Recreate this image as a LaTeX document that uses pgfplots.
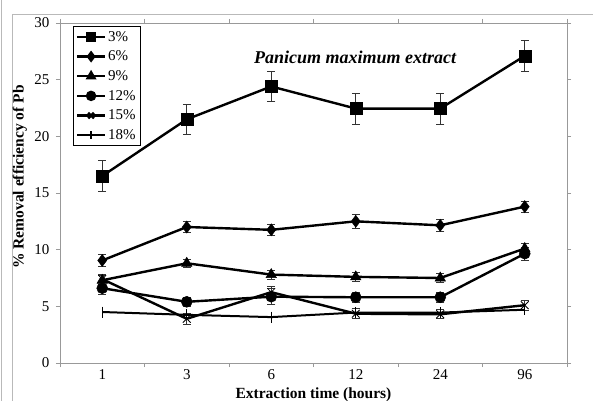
\documentclass[border=0pt]{standalone}
\usepackage{pgfplots}
\pgfplotsset{compat=1.18}
\usepackage{fontspec}
\setmainfont{Liberation Serif}
\begin{document}
\begin{tikzpicture}
\useasboundingbox (0,0) rectangle (593bp,401bp);
\draw[gray!55, line width=0.6bp] (1bp,0) -- (1bp,401bp);
\draw[gray!55, line width=0.6bp] (12bp,0) -- (12bp,387bp) -- (593bp,387bp);
\begin{axis}[
  at={(60bp,38bp)}, anchor=south west,
  scale only axis, width=507bp, height=340bp,
  xmin=-0.5, xmax=5.5, ymin=0, ymax=30,
  axis line style={gray!80, line width=0.6bp},
  tick style={gray!80, line width=0.6bp},
  tick align=outside, major tick length=4bp,
  xtick={-0.5,0.5,1.5,2.5,3.5,4.5,5.5}, xticklabels={},
  extra x ticks={0,1,2,3,4,5},
  extra x tick labels={1,3,6,12,24,96},
  extra x tick style={major tick length=0pt, xticklabel style={yshift=-3bp}},
  ytick={0,5,...,30},
  yticklabel style={xshift=-3bp},
  /pgf/number format/assume math mode=true,
  ticklabel style={font=\fontsize{15bp}{16bp}\selectfont},
  xlabel={\textbf{Extraction time (hours)}},
  xlabel style={at={(axis description cs:0.5,-0.094)}, anchor=center, font=\fontsize{15.5bp}{17bp}\selectfont},
  ylabel={\textbf{\% Removal efficiency of Pb}},
  ylabel style={at={(axis description cs:-0.079,0.547)}, anchor=center, font=\fontsize{15.5bp}{17bp}\selectfont},
  legend style={at={(0.026,0.99)}, anchor=north west, draw=black, line width=0.6bp,
    font=\fontsize{15bp}{16bp}\selectfont, row sep=4.2bp, inner sep=2.5bp},
  legend cell align=left,
  legend image code/.code={\draw[#1, line width=2.2bp] (0bp,0bp) -- (28bp,0bp); \draw[#1, mark size=4bp, mark options={solid}] plot coordinates {(14bp,0bp)};},
  error bars/error bar style={black!80, line width=0.7bp, solid},
  error bars/error mark options={black!80, line width=0.7bp, mark size=4bp, rotate=90, solid},
]
\node[font=\fontsize{18bp}{20bp}\selectfont\bfseries\itshape] at (axis description cs:0.582,0.9) {Panicum maximum extract};

\addplot[black, solid, line width=2.4bp, mark=square*, mark size=6bp, mark options={black, fill=black, line width=0.5bp, solid},
  error bars/.cd, y dir=both, y explicit] coordinates {
  (0,16.5) +- (0,1.35) (1,21.5) +- (0,1.35) (2,24.4) +- (0,1.35)
  (3,22.45) +- (0,1.35) (4,22.45) +- (0,1.35) (5,27.1) +- (0,1.35)};
\addlegendentry{3\%}

\addplot[black, solid, line width=2.4bp, mark=diamond*, mark size=6bp, mark options={black, fill=black, line width=0.5bp, solid},
  error bars/.cd, y dir=both, y explicit] coordinates {
  (0,9.05) +- (0,0.5) (1,12.0) +- (0,0.5) (2,11.75) +- (0,0.5)
  (3,12.5) +- (0,0.6) (4,12.15) +- (0,0.5) (5,13.8) +- (0,0.5)};
\addlegendentry{6\%}

\addplot[black, solid, line width=2.4bp, mark=triangle*, mark size=6bp, mark options={black, fill=black, line width=0.5bp, solid},
  error bars/.cd, y dir=both, y explicit] coordinates {
  (0,7.3) +- (0,0.4) (1,8.8) +- (0,0.35) (2,7.8) +- (0,0.4)
  (3,7.6) +- (0,0.4) (4,7.5) +- (0,0.4) (5,10.1) +- (0,0.45)};
\addlegendentry{9\%}

\addplot[black, solid, line width=2.4bp, mark=*, mark size=5.5bp, mark options={black, fill=black, line width=0.5bp, solid},
  error bars/.cd, y dir=both, y explicit] coordinates {
  (0,6.6) +- (0,0.5) (1,5.4) +- (0,0.4) (2,5.85) +- (0,0.7)
  (3,5.8) +- (0,0.45) (4,5.8) +- (0,0.45) (5,9.65) +- (0,0.55)};
\addlegendentry{12\%}

\addplot[black, solid, line width=2.4bp, mark=x, mark size=5.5bp, mark options={black, line width=0.8bp, solid},
  error bars/.cd, y dir=both, y explicit] coordinates {
  (0,7.4) +- (0,0.45) (1,3.9) +- (0,0.5) (2,6.25) +- (0,0.55)
  (3,4.35) +- (0,0.45) (4,4.3) +- (0,0.4) (5,5.1) +- (0,0.45)};
\addlegendentry{15\%}

\addplot[black, solid, line width=2.0bp, mark=|, mark size=5.5bp, mark options={black, line width=0.8bp, solid}] coordinates {
  (0,4.5) (1,4.25) (2,4.05) (3,4.45) (4,4.45) (5,4.7)};
\addlegendentry{18\%}
\end{axis}
\end{tikzpicture}
\end{document}
